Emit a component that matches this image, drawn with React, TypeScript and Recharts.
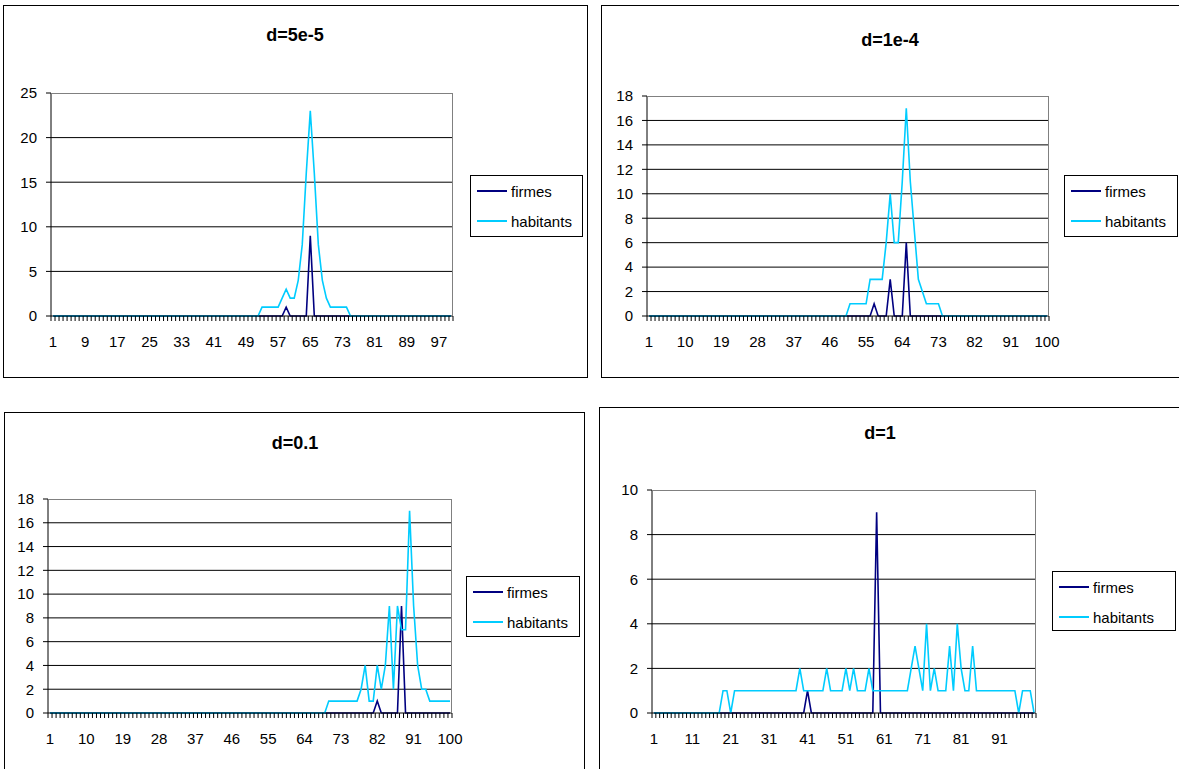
import React from 'react';
import { LineChart, Line, XAxis, YAxis, CartesianGrid, Legend } from 'recharts';

const FONT = '"Liberation Sans", Arial, sans-serif';
const FIRMES_COLOR = '#000080';
const HABITANTS_COLOR = '#00CCFF';

// categories 1..100 (same for the four charts)
const categories = Array.from({ length: 100 }, (_, i) => String(i + 1));

// d=5e-5
const firmesA = [
  0, 0, 0, 0, 0, 0, 0, 0, 0, 0, 0, 0, 0, 0, 0, 0, 0, 0, 0, 0,
  0, 0, 0, 0, 0, 0, 0, 0, 0, 0, 0, 0, 0, 0, 0, 0, 0, 0, 0, 0,
  0, 0, 0, 0, 0, 0, 0, 0, 0, 0, 0, 0, 0, 0, 0, 0, 0, 0, 1, 0,
  0, 0, 0, 0, 9, 0, 0, 0, 0, 0, 0, 0, 0, 0, 0, 0, 0, 0, 0, 0,
  0, 0, 0, 0, 0, 0, 0, 0, 0, 0, 0, 0, 0, 0, 0, 0, 0, 0, 0, 0,
];
const habitantsA = [
  0, 0, 0, 0, 0, 0, 0, 0, 0, 0, 0, 0, 0, 0, 0, 0, 0, 0, 0, 0,
  0, 0, 0, 0, 0, 0, 0, 0, 0, 0, 0, 0, 0, 0, 0, 0, 0, 0, 0, 0,
  0, 0, 0, 0, 0, 0, 0, 0, 0, 0, 0, 0, 1, 1, 1, 1, 1, 2, 3, 2,
  2, 4, 8, 16, 23, 16, 8, 4, 2, 1, 1, 1, 1, 1, 0, 0, 0, 0, 0, 0,
  0, 0, 0, 0, 0, 0, 0, 0, 0, 0, 0, 0, 0, 0, 0, 0, 0, 0, 0, 0,
];

// d=1e-4
const firmesB = [
  0, 0, 0, 0, 0, 0, 0, 0, 0, 0, 0, 0, 0, 0, 0, 0, 0, 0, 0, 0,
  0, 0, 0, 0, 0, 0, 0, 0, 0, 0, 0, 0, 0, 0, 0, 0, 0, 0, 0, 0,
  0, 0, 0, 0, 0, 0, 0, 0, 0, 0, 0, 0, 0, 0, 0, 0, 1, 0, 0, 0,
  3, 0, 0, 0, 6, 0, 0, 0, 0, 0, 0, 0, 0, 0, 0, 0, 0, 0, 0, 0,
  0, 0, 0, 0, 0, 0, 0, 0, 0, 0, 0, 0, 0, 0, 0, 0, 0, 0, 0, 0,
];
const habitantsB = [
  0, 0, 0, 0, 0, 0, 0, 0, 0, 0, 0, 0, 0, 0, 0, 0, 0, 0, 0, 0,
  0, 0, 0, 0, 0, 0, 0, 0, 0, 0, 0, 0, 0, 0, 0, 0, 0, 0, 0, 0,
  0, 0, 0, 0, 0, 0, 0, 0, 0, 0, 1, 1, 1, 1, 1, 3, 3, 3, 3, 6,
  10, 6, 6, 11, 17, 11, 7, 3, 2, 1, 1, 1, 1, 0, 0, 0, 0, 0, 0, 0,
  0, 0, 0, 0, 0, 0, 0, 0, 0, 0, 0, 0, 0, 0, 0, 0, 0, 0, 0, 0,
];

// d=0.1
const firmesC = [
  0, 0, 0, 0, 0, 0, 0, 0, 0, 0, 0, 0, 0, 0, 0, 0, 0, 0, 0, 0,
  0, 0, 0, 0, 0, 0, 0, 0, 0, 0, 0, 0, 0, 0, 0, 0, 0, 0, 0, 0,
  0, 0, 0, 0, 0, 0, 0, 0, 0, 0, 0, 0, 0, 0, 0, 0, 0, 0, 0, 0,
  0, 0, 0, 0, 0, 0, 0, 0, 0, 0, 0, 0, 0, 0, 0, 0, 0, 0, 0, 0,
  0, 1, 0, 0, 0, 0, 0, 9, 0, 0, 0, 0, 0, 0, 0, 0, 0, 0, 0, 0,
];
const habitantsC = [
  0, 0, 0, 0, 0, 0, 0, 0, 0, 0, 0, 0, 0, 0, 0, 0, 0, 0, 0, 0,
  0, 0, 0, 0, 0, 0, 0, 0, 0, 0, 0, 0, 0, 0, 0, 0, 0, 0, 0, 0,
  0, 0, 0, 0, 0, 0, 0, 0, 0, 0, 0, 0, 0, 0, 0, 0, 0, 0, 0, 0,
  0, 0, 0, 0, 0, 0, 0, 0, 0, 1, 1, 1, 1, 1, 1, 1, 1, 2, 4, 1,
  1, 4, 2, 4, 9, 2, 9, 7, 7, 17, 9, 4, 2, 2, 1, 1, 1, 1, 1, 1,
];

// d=1
const firmesD = [
  0, 0, 0, 0, 0, 0, 0, 0, 0, 0, 0, 0, 0, 0, 0, 0, 0, 0, 0, 0,
  0, 0, 0, 0, 0, 0, 0, 0, 0, 0, 0, 0, 0, 0, 0, 0, 0, 0, 0, 0,
  1, 0, 0, 0, 0, 0, 0, 0, 0, 0, 0, 0, 0, 0, 0, 0, 0, 0, 9, 0,
  0, 0, 0, 0, 0, 0, 0, 0, 0, 0, 0, 0, 0, 0, 0, 0, 0, 0, 0, 0,
  0, 0, 0, 0, 0, 0, 0, 0, 0, 0, 0, 0, 0, 0, 0, 0, 0, 0, 0, 0,
];
const habitantsD = [
  0, 0, 0, 0, 0, 0, 0, 0, 0, 0, 0, 0, 0, 0, 0, 0, 0, 0, 1, 1,
  0, 1, 1, 1, 1, 1, 1, 1, 1, 1, 1, 1, 1, 1, 1, 1, 1, 1, 2, 1,
  1, 1, 1, 1, 1, 2, 1, 1, 1, 1, 2, 1, 2, 1, 1, 1, 2, 1, 1, 1,
  1, 1, 1, 1, 1, 1, 1, 2, 3, 2, 1, 4, 1, 2, 1, 1, 1, 3, 1, 4,
  2, 1, 1, 3, 1, 1, 1, 1, 1, 1, 1, 1, 1, 1, 1, 0, 1, 1, 1, 0,
];

// axis ticks
const yTicksA = [0, 5, 10, 15, 20, 25];
const yTicksB = [0, 2, 4, 6, 8, 10, 12, 14, 16, 18];
const yTicksC = [0, 2, 4, 6, 8, 10, 12, 14, 16, 18];
const yTicksD = [0, 2, 4, 6, 8, 10];
const xLabelsA = ['1', '9', '17', '25', '33', '41', '49', '57', '65', '73', '81', '89', '97'];
const xLabelsB = ['1', '10', '19', '28', '37', '46', '55', '64', '73', '82', '91', '100'];
const xLabelsC = ['1', '10', '19', '28', '37', '46', '55', '64', '73', '82', '91', '100'];
const xLabelsD = ['1', '11', '21', '31', '41', '51', '61', '71', '81', '91'];

const panels = [
  {
    title: 'd=5e-5', firmes: firmesA, habitants: habitantsA, yTicks: yTicksA, xLabels: xLabelsA,
    box: { left: 3, top: 5, width: 585, height: 373 },
    plot: { left: 51, top: 93, right: 453, bottom: 316 },
    titleAt: { x: 295, y: 35 },
    legend: { left: 467, top: 170, width: 113, height: 62 },
  },
  {
    title: 'd=1e-4', firmes: firmesB, habitants: habitantsB, yTicks: yTicksB, xLabels: xLabelsB,
    box: { left: 601, top: 5, width: 590, height: 373 },
    plot: { left: 647, top: 96, right: 1049, bottom: 316 },
    titleAt: { x: 890, y: 40 },
    legend: { left: 463, top: 170, width: 114, height: 62 },
  },
  {
    title: 'd=0.1', firmes: firmesC, habitants: habitantsC, yTicks: yTicksC, xLabels: xLabelsC,
    box: { left: 4, top: 412, width: 581, height: 380 },
    plot: { left: 48, top: 499, right: 452, bottom: 713 },
    titleAt: { x: 295, y: 443 },
    legend: { left: 462, top: 164, width: 114, height: 61 },
  },
  {
    title: 'd=1', firmes: firmesD, habitants: habitantsD, yTicks: yTicksD, xLabels: xLabelsD,
    box: { left: 599, top: 407, width: 590, height: 380 },
    plot: { left: 652, top: 490, right: 1036, bottom: 713 },
    titleAt: { x: 880, y: 433 },
    legend: { left: 453, top: 164, width: 124, height: 60 },
  },
];

const Y_AXIS_W = 40;
const X_AXIS_H = 40;

// excel style category ticks: a mark between every category, labels only on some
const CategoryTick = (props: any) => {
  const { x, y, payload, step, labels, count } = props;
  const idx = payload.index ?? props.index;
  const show = labels.includes(String(payload.value));
  return (
    <g>
      <line x1={x - step / 2} y1={y} x2={x - step / 2} y2={y + 5} stroke="#000" />
      {idx === count - 1 && <line x1={x + step / 2} y1={y} x2={x + step / 2} y2={y + 5} stroke="#000" />}
      {show && (
        <text x={x} y={y + 31} textAnchor="middle" fontSize={15} fontFamily={FONT} fill="#000">
          {payload.value}
        </text>
      )}
    </g>
  );
};

const LegendBox = ({ payload }: any) => (
  <div style={{ border: '1px solid #000', background: '#fff', boxSizing: 'border-box', width: '100%', height: '100%', paddingLeft: 6 }}>
    {(payload || []).map((item: any) => (
      <div key={item.value} style={{ display: 'flex', alignItems: 'center', height: 30 }}>
        <svg width={30} height={4} style={{ display: 'block' }}>
          <line x1={0} y1={2} x2={30} y2={2} stroke={item.color} strokeWidth={2} />
        </svg>
        <span style={{ marginLeft: 4, fontSize: 15, fontFamily: FONT, color: '#000' }}>{item.value}</span>
      </div>
    ))}
  </div>
);

const Panel = ({ p }: { p: (typeof panels)[number] }) => {
  const { box, plot } = p;
  const data = categories.map((cat, i) => ({ cat, firmes: p.firmes[i], habitants: p.habitants[i] }));
  const plotW = plot.right - plot.left;
  const step = plotW / categories.length;
  const yMax = p.yTicks[p.yTicks.length - 1];
  const margin = {
    top: plot.top - box.top,
    left: plot.left - box.left - Y_AXIS_W,
    right: box.left + box.width - plot.right,
    bottom: box.top + box.height - plot.bottom - X_AXIS_H,
  };

  return (
    <>
      <div style={{ position: 'absolute', left: box.left, top: box.top, width: box.width, height: box.height }}>
        <LineChart width={box.width} height={box.height} data={data} margin={margin}>
          <CartesianGrid vertical={false} stroke="#000" horizontalValues={p.yTicks.slice(1, -1)} />
          <XAxis
            dataKey="cat"
            interval={0}
            tickLine={false}
            tickSize={0}
            tickMargin={0}
            height={X_AXIS_H}
            padding={{ left: step / 2, right: step / 2 }}
            axisLine={{ stroke: '#000' }}
            tick={(tp: any) => <CategoryTick {...tp} step={step} labels={p.xLabels} count={categories.length} />}
          />
          <YAxis
            width={Y_AXIS_W}
            domain={[0, yMax]}
            ticks={p.yTicks}
            interval={0}
            tickSize={5}
            tickMargin={9}
            tickLine={{ stroke: '#000' }}
            axisLine={{ stroke: '#000' }}
            tick={{ fontSize: 15, fill: '#000', fontFamily: FONT }}
          />
          <Legend
            layout="vertical"
            align="center"
            verticalAlign="middle"
            content={<LegendBox />}
            wrapperStyle={{ left: p.legend.left, top: p.legend.top, width: p.legend.width, height: p.legend.height }}
          />
          <Line type="linear" dataKey="firmes" name="firmes" stroke={FIRMES_COLOR} strokeWidth={1.6} dot={false} isAnimationActive={false} />
          <Line type="linear" dataKey="habitants" name="habitants" stroke={HABITANTS_COLOR} strokeWidth={1.6} dot={false} isAnimationActive={false} />
        </LineChart>
      </div>
      {/* plot area frame (grey top / right) */}
      <div
        style={{
          position: 'absolute', left: plot.left, top: plot.top, width: plotW, height: plot.bottom - plot.top,
          borderTop: '1px solid #808080', borderRight: '1px solid #808080', boxSizing: 'border-box', pointerEvents: 'none',
        }}
      />
      {/* chart area frame */}
      <div
        style={{
          position: 'absolute', left: box.left, top: box.top, width: box.width, height: box.height,
          border: '1px solid #000', boxSizing: 'border-box', pointerEvents: 'none',
        }}
      />
      <div
        style={{
          position: 'absolute', left: p.titleAt.x - 100, top: p.titleAt.y - 11, width: 200, height: 22, lineHeight: '22px',
          textAlign: 'center', fontFamily: FONT, fontWeight: 'bold', fontSize: 18, color: '#000',
        }}
      >
        {p.title}
      </div>
    </>
  );
};

export default function App() {
  return (
    <div style={{ position: 'absolute', left: 0, top: 0, width: 1179, height: 769, overflow: 'hidden', background: '#fff' }}>
      {panels.map((p) => (
        <Panel key={p.title} p={p} />
      ))}
    </div>
  );
}
